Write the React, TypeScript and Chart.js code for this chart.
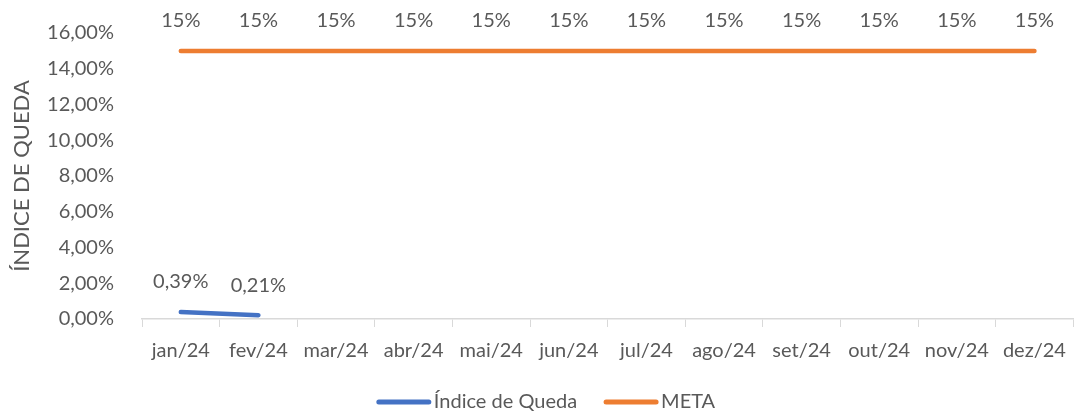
import React, { useEffect, useRef } from "react";
import { Chart, registerables } from "chart.js";

Chart.register(...registerables);

const categories = ["jan/24", "fev/24", "mar/24", "abr/24", "mai/24", "jun/24", "jul/24", "ago/24", "set/24", "out/24", "nov/24", "dez/24"];
const indiceQueda: (number | null)[] = [0.39, 0.21, null, null, null, null, null, null, null, null, null, null];
const meta = [15, 15, 15, 15, 15, 15, 15, 15, 15, 15, 15, 15];
const yTicks = [0, 2, 4, 6, 8, 10, 12, 14, 16];

const FONT = "Lato, 'Open Sans', sans-serif";
const TEXT = "#595959";
const FS = 20;

const fmtPct2 = (v: number) => v.toFixed(2).replace(".", ",") + "%";
const fmtPct0 = (v: number) => Math.round(v) + "%";

const labelPlugin = {
  id: "pointLabels",
  afterDatasetsDraw(chart: any) {
    const ctx = chart.ctx;
    ctx.save();
    ctx.font = `${FS}px ${FONT}`;
    ctx.fillStyle = TEXT;
    ctx.textAlign = "center";
    ctx.textBaseline = "middle";
    chart.data.datasets.forEach((ds: any, i: number) => {
      const metaDs = chart.getDatasetMeta(i);
      metaDs.data.forEach((pt: any, j: number) => {
        const v = ds.data[j];
        if (v === null || v === undefined) return;
        const txt = i === 0 ? fmtPct2(v) : fmtPct0(v);
        ctx.fillText(txt, pt.x, pt.y - 30);
      });
    });
    ctx.restore();
  },
};

const legendPlugin = {
  id: "lineLegend",
  afterDraw(chart: any) {
    const ctx = chart.ctx;
    const lineW = 54;
    const gap = 3;
    const itemGap = 27;
    const y = 402;
    ctx.save();
    ctx.font = `${FS}px ${FONT}`;
    const items = chart.data.datasets.map((ds: any) => ({
      label: ds.label as string,
      color: ds.borderColor as string,
      w: lineW + gap + ctx.measureText(ds.label).width,
    }));
    const total = items.reduce((a: number, it: any) => a + it.w, 0) + itemGap * (items.length - 1);
    let x = chart.width / 2 + 7 - total / 2;
    items.forEach((it: any) => {
      ctx.strokeStyle = it.color;
      ctx.lineWidth = 5;
      ctx.lineCap = "round";
      ctx.beginPath();
      ctx.moveTo(x + 2, y);
      ctx.lineTo(x + lineW - 2, y);
      ctx.stroke();
      ctx.fillStyle = TEXT;
      ctx.textAlign = "left";
      ctx.textBaseline = "middle";
      ctx.fillText(it.label, x + lineW + gap, y);
      x += it.w + itemGap;
    });
    ctx.restore();
  },
};

export default function App() {
  const ref = useRef<HTMLCanvasElement>(null);
  useEffect(() => {
    document.body.style.margin = "0";
    const chart = new Chart(ref.current!, {
      type: "line",
      data: {
        labels: categories,
        datasets: [
          {
            label: "Índice de Queda",
            data: indiceQueda,
            borderColor: "#4472C4",
            backgroundColor: "#4472C4",
            borderWidth: 4.5,
            borderCapStyle: "round",
            pointRadius: 0,
            spanGaps: false,
          },
          {
            label: "META",
            data: meta,
            borderColor: "#ED7D31",
            backgroundColor: "#ED7D31",
            borderWidth: 4.5,
            borderCapStyle: "round",
            pointRadius: 0,
          },
        ],
      },
      options: {
        animation: false,
        responsive: false,
        maintainAspectRatio: false,
        layout: { padding: { top: 33, right: 1, left: 0, bottom: 34 } },
        plugins: {
          tooltip: { enabled: false },
          legend: { display: false },
        },
        scales: {
          x: {
            offset: true,
            grid: { drawOnChartArea: false, drawTicks: true, tickLength: 8, color: "#d9d9d9", offset: true },
            border: { color: "#d9d9d9", width: 1.5 },
            ticks: { font: { family: FONT, size: FS }, color: TEXT, padding: 12, maxRotation: 0 },
            afterFit: (s: any) => { s.height = 60; },
          },
          y: {
            min: 0,
            max: 16,
            afterBuildTicks: (s: any) => { s.ticks = yTicks.map((v) => ({ value: v })); },
            grid: { display: false },
            border: { display: false },
            ticks: { font: { family: FONT, size: FS }, color: TEXT, padding: 20, callback: (v: any) => fmtPct2(Number(v)) },
            title: { display: true, text: "ÍNDICE DE QUEDA", font: { family: FONT, size: 22 }, color: TEXT, padding: { top: 9, bottom: 0 } },
            afterFit: (s: any) => { s.width = 142; },
          },
        },
      },
      plugins: [labelPlugin, legendPlugin],
    });
    return () => chart.destroy();
  }, []);
  return (
    <div style={{ position: "absolute", left: 0, top: 0, width: 1078, height: 413, background: "#fff" }}>
      <canvas ref={ref} width={1078} height={413} style={{ width: 1078, height: 413 }} />
    </div>
  );
}
